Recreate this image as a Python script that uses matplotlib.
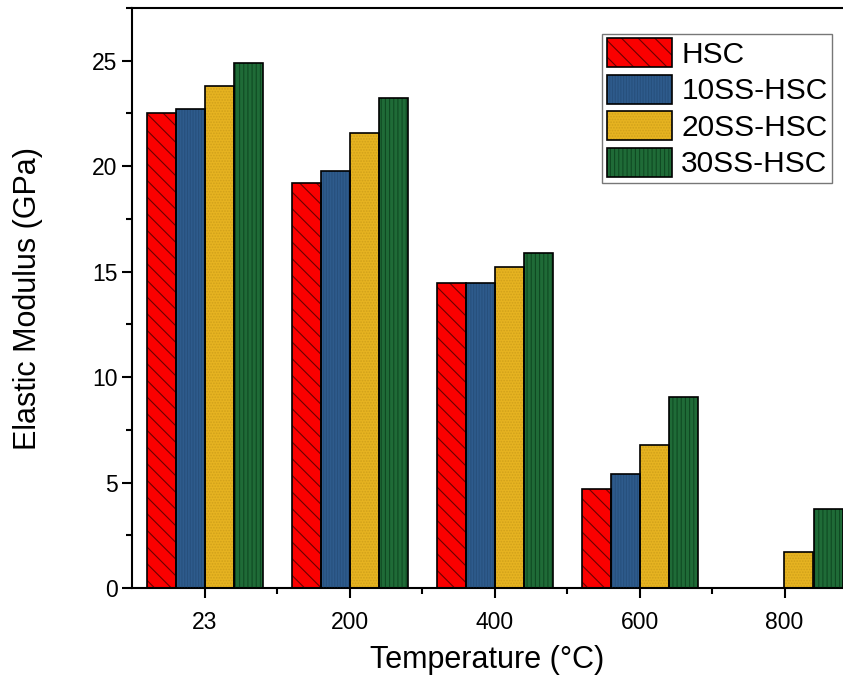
import numpy as np
import matplotlib
matplotlib.use("Agg")
import matplotlib.pyplot as plt
from matplotlib.patches import Patch
from matplotlib.legend_handler import HandlerTuple
from matplotlib.ticker import MultipleLocator, FixedLocator

plt.rcParams['font.family'] = ['Liberation Sans', 'DejaVu Sans']

temperatures = ['23', '200', '400', '600', '800']
series_names = ['HSC', '10SS-HSC', '20SS-HSC', '30SS-HSC']
hsc = [22.5, 19.2, 14.45, 4.7, np.nan]
ss10 = [22.7, 19.75, 14.45, 5.4, np.nan]
ss20 = [23.8, 21.55, 15.2, 6.8, 1.7]
ss30 = [24.9, 23.25, 15.9, 9.05, 3.75]

face_colors = ['#FA0000', '#2E5B8C', '#E6B321', '#1F6B37']
hatch_colors = ['#6A0000', '#27507D', '#D1A11A', '#0F4A22']
hatches = ['\\\\', '||||||', '......', '||||']

plt.rcParams['hatch.linewidth'] = 0.8

fig = plt.figure(figsize=(8.43, 6.79), dpi=100)
ax = fig.add_axes([132 / 843, 91 / 679, 725 / 843, 580 / 679])

x = np.arange(len(temperatures))
width = 0.2
offsets = [-0.3, -0.1, 0.1, 0.3]
legend_handles = []
for vals, off, fc, hc, h in zip([hsc, ss10, ss20, ss30], offsets,
                                face_colors, hatch_colors, hatches):
    vals = np.array(vals, dtype=float)
    m = ~np.isnan(vals)
    ax.bar(x[m] + off, vals[m], width, color=fc, linewidth=0, zorder=2)
    ax.bar(x[m] + off, vals[m], width, facecolor='none', edgecolor=hc,
           linewidth=0, hatch=h, zorder=3)
    ax.bar(x[m] + off, vals[m], width, facecolor='none', edgecolor='black',
           linewidth=1.2, zorder=4)
    legend_handles.append((
        Patch(facecolor=fc, linewidth=0),
        Patch(facecolor='none', edgecolor=hc, linewidth=0, hatch=h),
        Patch(facecolor='none', edgecolor='black', linewidth=1.2),
    ))

ax.set_xlim(-0.5, 4.5)
ax.set_ylim(0, 27.5)
ax.set_xticks(x)
ax.set_xticklabels(temperatures)
ax.xaxis.set_minor_locator(FixedLocator(x[:-1] + 0.5))
ax.yaxis.set_major_locator(MultipleLocator(5))
ax.yaxis.set_minor_locator(MultipleLocator(2.5))

for s in ax.spines.values():
    s.set_linewidth(1.5)
ax.tick_params(axis='both', which='major', direction='out', length=7.5,
               width=1.5, labelsize=16.5, pad=3)
ax.tick_params(axis='both', which='minor', direction='out', length=4,
               width=1.5)
ax.tick_params(axis='x', which='major', pad=9)

ax.set_xlabel('Temperature (°C)', fontsize=22)
ax.set_ylabel('Elastic Modulus (GPa)', fontsize=22)
ax.xaxis.set_label_coords((487 - 132) / 725, -0.098)
ax.yaxis.set_label_coords((43 - 132) / 725, 0.5)

leg = ax.legend(legend_handles, series_names,
                handler_map={tuple: HandlerTuple(ndivide=1, pad=0)},
                loc='upper right', bbox_to_anchor=(832 / 843, 1 - 34 / 679),
                bbox_transform=fig.transFigure, fontsize=21.5, frameon=True,
                fancybox=False, edgecolor='#555555', handlelength=2.2,
                handleheight=1.1, labelspacing=0.2, borderpad=0.15,
                handletextpad=0.3, borderaxespad=0)
leg.get_frame().set_linewidth(1.0)

fig.savefig('out.png', dpi=100)
